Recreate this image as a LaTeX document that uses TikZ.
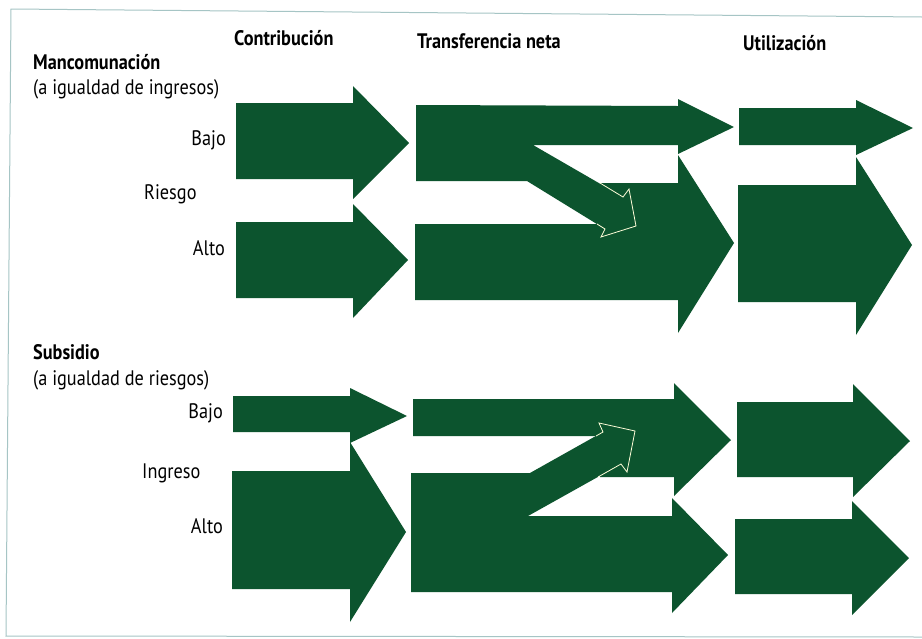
\documentclass[tikz,border=0pt]{standalone}
\usepackage{fontspec}
\setmainfont{PT Sans}[FakeStretch=0.87]
\begin{document}
\begin{tikzpicture}[x=1pt,y=-1pt,
  flow/.style={fill=flowgreen, draw=none},
  turn/.style={draw=white!85!yellow, line width=0.8pt, line join=miter},
  frame/.style={draw=black!30!teal!35, line width=1pt},
  head/.style={font=\bfseries\fontsize{21}{23}\selectfont, inner sep=0pt, anchor=base west},
  lbl/.style={font=\fontsize{21}{23}\selectfont, inner sep=0pt}]
\definecolor{flowgreen}{RGB}{12,84,46}
\useasboundingbox (0,0) rectangle (922,638);
\fill[white] (0,0) rectangle (922,638);
% outer frame (top, left, bottom)
\draw[frame] (922,17) -- (11,9) -- (6,636) -- (922,637);

% column headings
\node[head] (hc) at (234,45) {Contribución};
\node[head] (ht) at (417,48) {Transferencia neta};
\node[head] (hu) at (743,50) {Utilización};

% ---------- pooling (equal income) ----------
\node[head] (pool1) at (33,69) {Mancomunación};
\node[lbl, anchor=base west] (pool2) at (33,94) {(a igualdad de ingresos)};
\node[lbl, anchor=base east] (rlow) at (226,145) {Bajo};
\node[lbl, anchor=base west] (risk) at (144,199) {Riesgo};
\node[lbl, anchor=base east] (rhigh) at (225,255) {Alto};

% contribution
\fill[flow] (236,103) -- (353,103) -- (353,86) -- (409,143) -- (353,199) -- (353,179) -- (236,179) -- cycle;
\fill[flow] (236,222) -- (353,222) -- (353,204) -- (408,260) -- (353,318) -- (353,298) -- (236,298) -- cycle;
% net transfer: low-risk flow with its branch down to high risk
\fill[flow] (416,105) -- (678,106) -- (678,99) -- (734,127) -- (678,154) -- (678,145) -- (533,145)
  -- (623,197) -- (629,189) -- (636,226) -- (601,237) -- (605,229) -- (527,181) -- (416,181) -- cycle;
\fill[flow] (415,224) -- (600,224) -- (600,183) -- (678,183) -- (678,155) -- (734,243) -- (678,333)
  -- (678,300) -- (415,300) -- cycle;
\draw[turn] (600,183) -- (623,197) -- (629,189) -- (636,226) -- (601,237) -- (605,229) -- (597,224);
% utilization
\fill[flow] (739,108) -- (856,108) -- (856,100) -- (913,128) -- (856,155) -- (856,145) -- (739,145) -- cycle;
\fill[flow] (738,185) -- (856,185) -- (856,157) -- (912,245) -- (856,335) -- (856,302) -- (738,302) -- cycle;

% ---------- subsidy (equal risk) ----------
\node[head] (sub1) at (33,359) {Subsidio};
\node[lbl, anchor=base west] (sub2) at (33,385) {(a igualdad de riesgos)};
\node[lbl, anchor=base east] (ilow) at (223,418) {Bajo};
\node[lbl, anchor=base west] (inc) at (142,478) {Ingreso};
\node[lbl, anchor=base east] (ihigh) at (223,533) {Alto};

% contribution
\fill[flow] (233,396) -- (350,396) -- (350,388) -- (407,416) -- (350,443) -- (350,432) -- (233,432) -- cycle;
\fill[flow] (232,471) -- (350,471) -- (350,442) -- (406,532) -- (350,622) -- (350,589) -- (232,589) -- cycle;
% net transfer: high-income flow with its branch up to low income
\fill[flow] (413,399) -- (674,399) -- (674,383) -- (731,440) -- (674,496) -- (674,477) -- (600,477)
  -- (600,436) -- (413,436) -- cycle;
\fill[flow] (411,473) -- (530,473) -- (603,432) -- (599,423) -- (635,431) -- (627,472) -- (621,464)
  -- (528,516) -- (672,516) -- (672,498) -- (728,555) -- (672,613) -- (672,592) -- (411,592) -- cycle;
\draw[turn] (598,477) -- (621,464) -- (627,472) -- (635,431) -- (599,423) -- (603,432) -- (596,436);
% utilization
\fill[flow] (737,402) -- (853,402) -- (853,384) -- (910,441) -- (853,497) -- (853,477) -- (737,477) -- cycle;
\fill[flow] (735,519) -- (852,519) -- (852,501) -- (909,558) -- (852,615) -- (852,594) -- (735,594) -- cycle;
\end{tikzpicture}
\end{document}
